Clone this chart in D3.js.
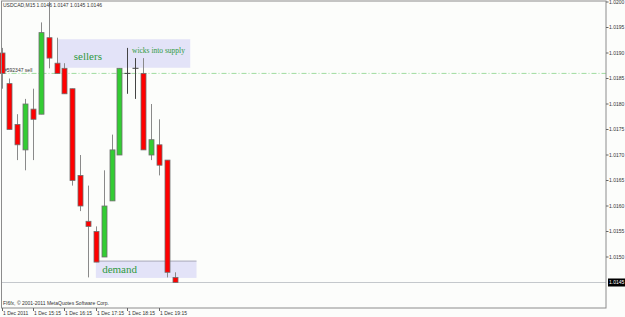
<!DOCTYPE html>
<html>
<head>
<meta charset="utf-8">
<script src="https://cdn.jsdelivr.net/npm/d3@7"></script>
<style>
body { margin: 0; background: #fcfdfb; }
svg { display: block; }
.small { font-family: 'Liberation Sans', Arial, sans-serif; font-size: 5px; fill: #333; }
.note { font-family: 'Liberation Serif', 'Times New Roman', serif; fill: #2f9a3f; }
</style>
</head>
<body>
<svg width="625" height="317"></svg>
<script>
// USDCAD M15 bars, 1 Dec 2011
var times  = ['14:15','14:30','14:45','15:00','15:15','15:30','15:45','16:00','16:15','16:30','16:45','17:00',
              '17:15','17:30','17:45','18:00','18:15','18:30','18:45','19:00','19:15','19:30','19:45'];
var opens  = [1.0190,1.0184,1.0176,1.0171,1.0179,1.0178,1.0193,1.0188,1.0187,1.0183,1.0166,1.0157,
              1.0155,1.0150,1.0161,1.0170,1.0186,1.0187,1.0186,1.0170,1.0172,1.0169,1.0146];
var highs  = [1.0191,1.0185,1.0178,1.0181,1.0183,1.0196,1.0200,1.0193,1.0188,1.0183,1.0170,1.0164,
              1.0156,1.0167,1.0174,1.0187,1.0191,1.0189,1.0189,1.0180,1.0177,1.0169,1.0147];
var lows   = [1.0183,1.0175,1.0169,1.0167,1.0169,1.0178,1.0187,1.0186,1.0182,1.0164,1.0159,1.0146,
              1.0149,1.0150,1.0161,1.0170,1.0182,1.0181,1.0171,1.0169,1.0166,1.0146,1.0145];
var closes = [1.0186,1.0175,1.0172,1.0180,1.0177,1.0194,1.0189,1.0186,1.0182,1.0165,1.0160,1.0156,
              1.0149,1.0160,1.0171,1.0187,1.0186,1.0187,1.0171,1.0173,1.0168,1.0147,1.0145];

// axis ticks
var priceTicks = [1.0150,1.0155,1.0160,1.0165,1.0170,1.0175,1.0180,1.0185,1.0190,1.0195,1.0200];
var timeTickIndex = [0,4,8,12,16,20];
var timeTickLabels = ['1 Dec 2011','1 Dec 15:15','1 Dec 16:15','1 Dec 17:15','1 Dec 18:15','1 Dec 19:15'];

// levels and drawn objects
var sellLevel = 1.0186;
var bidPrice = 1.0145;
var sellersBox = [7.2, 24, 1.01927, 1.01871];   // bar from, bar to, price top, price bottom
var demandBox = [12.0, 24.8, 1.01492, 1.01459];
var notes = [
    { text: 'sellers', bar: 9.2, price: 1.01886, size: 11 },
    { text: 'wicks into supply', bar: 16.6, price: 1.0190, size: 7.5 },
    { text: 'demand', bar: 12.8, price: 1.01469, size: 11 }
];

var data = times.map(function(t, i) {
    return { idx: i, time: t, open: opens[i], high: highs[i], low: lows[i], close: closes[i] };
});

var svg = d3.select('svg');
var plot = { l: 1.5, t: 1, r: 606, b: 308 };

// scales
var xScale = d3.scaleLinear().domain([0, 22]).range([1.5, 174.5]);
var yScale = d3.scaleLinear().domain([1.0145, 1.0200]).range([282.5, 2]);

// pixel centre of a bar
function barX(d) {
    return Math.round(xScale(d.idx)) + 0.5;
}

svg.append('rect').attr('width', 625).attr('height', 317).attr('fill', '#fcfdfb');

svg.append('clipPath').attr('id', 'plotClip')
    .append('rect')
    .attr('x', 0).attr('y', plot.t)
    .attr('width', plot.r).attr('height', plot.b - plot.t);

var chartG = svg.append('g').attr('clip-path', 'url(#plotClip)');

// sellers / demand zones (behind the bars)
function drawBox(b) {
    chartG.append('rect')
        .attr('x', xScale(b[0]))
        .attr('y', yScale(b[2]))
        .attr('width', xScale(b[1]) - xScale(b[0]))
        .attr('height', yScale(b[3]) - yScale(b[2]))
        .attr('fill', '#e3e3f8');
}
drawBox(sellersBox);
drawBox(demandBox);
chartG.append('line')
    .attr('x1', xScale(demandBox[0])).attr('x2', xScale(demandBox[1]))
    .attr('y1', yScale(demandBox[2])).attr('y2', yScale(demandBox[2]))
    .attr('stroke', '#a8a8b8').attr('stroke-width', 1);

// bid line
chartG.append('line')
    .attr('x1', plot.l).attr('x2', plot.r)
    .attr('y1', yScale(bidPrice)).attr('y2', yScale(bidPrice))
    .attr('stroke', '#c4c8cc').attr('stroke-width', 1);

// sell order level
chartG.append('line')
    .attr('x1', plot.l).attr('x2', plot.r)
    .attr('y1', yScale(sellLevel)).attr('y2', yScale(sellLevel))
    .attr('stroke', '#9edc9e').attr('stroke-width', 1)
    .attr('stroke-dasharray', '5,2,1,2');

chartG.append('text')
    .attr('class', 'small')
    .attr('x', xScale(0) + 2.5)
    .attr('y', yScale(sellLevel) - 1.5)
    .text('#592347 sell');

// candles
var bodyW = 5;
var bars = chartG.selectAll('.bar').data(data).enter()
    .append('g').attr('class', 'bar');

bars.append('line')
    .attr('x1', barX)
    .attr('x2', barX)
    .attr('y1', d => yScale(d.high))
    .attr('y2', d => yScale(d.low))
    .attr('stroke', d => d.open == d.close ? '#444' : '#8a8a8a')
    .attr('stroke-width', 1);

bars.filter(d => d.open != d.close).append('rect')
    .attr('x', d => barX(d) - bodyW / 2)
    .attr('y', d => yScale(Math.max(d.open, d.close)))
    .attr('width', bodyW)
    .attr('height', d => Math.abs(yScale(d.open) - yScale(d.close)))
    .attr('fill', d => d.close > d.open ? '#33cc33' : '#ff0000')
    .attr('stroke', '#6f6f6f')
    .attr('stroke-width', 0.8);

bars.filter(d => d.open == d.close).append('line')
    .attr('x1', d => barX(d) - bodyW / 2 - 0.5)
    .attr('x2', d => barX(d) + bodyW / 2 + 0.5)
    .attr('y1', d => yScale(d.open))
    .attr('y2', d => yScale(d.open))
    .attr('stroke', '#444').attr('stroke-width', 1);

// notes
notes.forEach(function(n) {
    chartG.append('text')
        .attr('class', 'note')
        .attr('x', xScale(n.bar))
        .attr('y', yScale(n.price))
        .style('font-size', n.size + 'px')
        .text(n.text);
});

// frame
svg.append('rect')
    .attr('x', plot.l).attr('y', plot.t)
    .attr('width', plot.r - plot.l).attr('height', plot.b - plot.t)
    .attr('fill', 'none').attr('stroke', '#8c8c8c').attr('stroke-width', 1);

// price axis
var yAxis = svg.append('g').attr('class', 'y axis');
priceTicks.forEach(function(p) {
    yAxis.append('line')
        .attr('x1', plot.r).attr('x2', plot.r + 2.5)
        .attr('y1', yScale(p)).attr('y2', yScale(p))
        .attr('stroke', '#666');
    yAxis.append('text')
        .attr('class', 'small')
        .attr('x', plot.r + 3)
        .attr('y', yScale(p) + 1.8)
        .text(p.toFixed(4));
});

// current price tag
yAxis.append('rect')
    .attr('x', plot.r + 2).attr('y', yScale(bidPrice) - 4)
    .attr('width', 17).attr('height', 8)
    .attr('fill', '#000');
yAxis.append('text')
    .attr('class', 'small')
    .attr('x', plot.r + 3)
    .attr('y', yScale(bidPrice) + 1.8)
    .style('fill', '#fff')
    .text(bidPrice.toFixed(4));

// time axis
var xAxis = svg.append('g').attr('class', 'x axis');
timeTickIndex.forEach(function(idx, k) {
    var tx = Math.round(xScale(idx)) + 0.5;
    xAxis.append('line')
        .attr('x1', tx).attr('x2', tx)
        .attr('y1', plot.b).attr('y2', plot.b + 3)
        .attr('stroke', '#666');
    xAxis.append('text')
        .attr('class', 'small')
        .attr('x', tx + 0.5)
        .attr('y', plot.b + 6.5)
        .text(timeTickLabels[k]);
});

// header and footer text
svg.append('text').attr('class', 'small')
    .attr('x', 3).attr('y', 7)
    .text('USDCAD,M15  ' + opens[22].toFixed(4) + ' ' + highs[22].toFixed(4) + ' ' + lows[22].toFixed(4) + ' 1.0146');

svg.append('text').attr('class', 'small')
    .attr('x', 3).attr('y', 305)
    .text('FI6fx, \u00a9 2001-2011 MetaQuotes Software Corp.');
</script>
</body>
</html>
